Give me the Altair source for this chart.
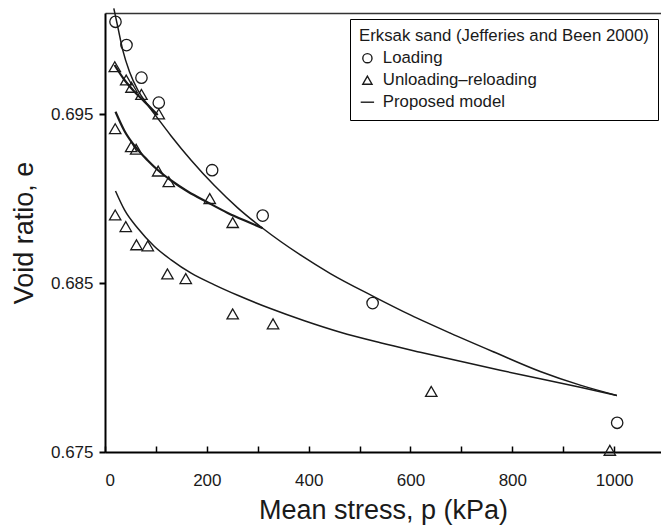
import altair as alt
import pandas as pd

# ---------------- data ----------------
loading_p = [20.6, 42.2, 71.6, 105.6, 210.4, 309.7, 525.6, 1005.9]
loading_e = [0.70048, 0.69910, 0.69717, 0.69569, 0.69169, 0.68900, 0.68382, 0.67673]

unload_p = [19.2, 41.6, 52.0, 71.6, 105.6,
            20.0, 51.4, 61.2, 104.4, 125.2, 205.7, 250.8,
            20.0, 40.8, 61.8, 84.0, 122.7, 158.6, 250.8, 330.0, 640.8, 991.5]
unload_e = [0.69782, 0.69703, 0.69660, 0.69618, 0.69502,
            0.69415, 0.69308, 0.69293, 0.69164, 0.69101, 0.69001, 0.68859,
            0.68904, 0.68835, 0.68727, 0.68721, 0.68555, 0.68527, 0.68318, 0.68259, 0.67859, 0.67510]

# model curves
model_load_p = [17.3, 25.1, 34.9, 48.1, 64.4, 84.0, 103.6, 129.9, 169.2, 214.9, 260.6, 309.7,
                383.7, 442.6, 525.0, 599.6, 678.1, 766.4, 854.8, 933.3, 1005.3]
model_load_e = [0.70127, 0.70018, 0.69880, 0.69752, 0.69644, 0.69555, 0.69476, 0.69372, 0.69228,
                0.69078, 0.68946, 0.68825, 0.68667, 0.68557, 0.68425, 0.68312, 0.68204, 0.68089,
                0.67977, 0.67896, 0.67835]

model_r1_p = [18.6, 38.3, 57.9, 77.5, 103.6]
model_r1_e = [0.69792, 0.69703, 0.69634, 0.69575, 0.69496]

model_r2_p = [20.6, 38.3, 61.2, 84.0, 103.6, 129.9, 162.5, 201.8, 241.0, 280.3, 309.7]
model_r2_e = [0.69515, 0.69401, 0.69301, 0.69227, 0.69170, 0.69108, 0.69043, 0.68978,
              0.68916, 0.68863, 0.68825]

model_r3_p = [20.6, 38.3, 64.4, 97.2, 129.9, 169.2, 214.9, 260.6, 326.2, 391.6, 462.2,
              540.7, 619.2, 697.7, 776.3, 854.8, 933.3, 1005.3]
model_r3_e = [0.69046, 0.68934, 0.68825, 0.68717, 0.68638, 0.68559, 0.68490, 0.68428,
              0.68348, 0.68277, 0.68209, 0.68147, 0.68091, 0.68037, 0.67984, 0.67934,
              0.67883, 0.67835]

series_names = ["Loading", "Unloading\u2013reloading", "Proposed model"]
series_shapes = ["circle", "triangle-up", "M-1.45,0H1.45"]
x_ticks = [0, 100, 200, 300, 400, 500, 600, 700, 800, 900, 1000]
x_labels = [0, 200, 400, 600, 800, 1000]
y_ticks = [0.675, 0.685, 0.695]

# ---------------- tables ----------------
pts = pd.DataFrame({
    "p": loading_p + unload_p,
    "e": loading_e + unload_e,
    "series": [series_names[0]] * len(loading_p) + [series_names[1]] * len(unload_p),
})

def curve(name, ps, es):
    return pd.DataFrame({"p": ps, "e": es, "curve": [name] * len(ps)})

thin = pd.concat([curve("load", model_load_p, model_load_e),
                  curve("r3", model_r3_p, model_r3_e)])
thick = pd.concat([curve("r1", model_r1_p, model_r1_e),
                   curve("r2", model_r2_p, model_r2_e)])

W, H = 556, 439
FONT = "Liberation Sans"
INK = "#1a1a1a"
xscale = alt.Scale(domain=[0, 1092], nice=False, zero=False)
yscale = alt.Scale(domain=[0.675, 0.701], nice=False, zero=False)

thin_lines = alt.Chart(thin).mark_line(color=INK, strokeWidth=1.5, interpolate="monotone").encode(
    x=alt.X("p:Q", scale=xscale, axis=None),
    y=alt.Y("e:Q", scale=yscale, axis=None),
    detail="curve:N",
)
thick_lines = alt.Chart(thick).mark_line(color=INK, strokeWidth=2.2, interpolate="monotone").encode(
    x=alt.X("p:Q", scale=xscale, axis=None),
    y=alt.Y("e:Q", scale=yscale, axis=None),
    detail="curve:N",
)

points = alt.Chart(pts).mark_point(filled=False, color=INK, strokeWidth=1.3, size=130, opacity=1).encode(
    x=alt.X("p:Q", scale=xscale,
            axis=alt.Axis(orient="bottom", values=x_labels, format="d", ticks=False, tickSize=0,
                          labelPadding=20, domainWidth=2, domainColor="black",
                          labelFontSize=17, labelColor=INK, labelFont=FONT,
                          title="Mean stress, p (kPa)", titleFontSize=27, titleFont=FONT,
                          titleFontWeight="normal", titleColor=INK, titlePadding=9,
                          grid=False)),
    y=alt.Y("e:Q", scale=yscale,
            axis=alt.Axis(orient="left", values=y_ticks, format=".3f", tickSize=6, tickWidth=2,
                          tickColor="black", labelPadding=6, domainWidth=2, domainColor="black",
                          labelFontSize=17, labelColor=INK, labelFont=FONT,
                          title="Void ratio, e", titleFontSize=27, titleFont=FONT,
                          titleFontWeight="normal", titleColor=INK, titlePadding=12,
                          grid=False)),
    shape=alt.Shape("series:N",
                    scale=alt.Scale(domain=series_names, range=series_shapes),
                    legend=alt.Legend(title="Erksak sand (Jefferies and Been 2000)",
                                      orient="none", legendX=245, legendY=6,
                                      strokeColor="black", fillColor="white", padding=9,
                                      symbolSize=85, symbolStrokeWidth=1.4,
                                      symbolStrokeColor=INK, symbolFillColor="white",
                                      labelFontSize=16.8, labelFont=FONT, labelColor=INK,
                                      titleFontSize=16.8, titleFont=FONT, titleColor=INK,
                                      titleFontWeight="normal", titleLimit=500, labelLimit=400,
                                      rowPadding=4, titlePadding=5, labelOffset=7)),
)

# inward ticks along the bottom edge (top-oriented axis shifted down)
tick_layer = alt.Chart(pts).mark_point(opacity=0).encode(
    x=alt.X("p:Q", scale=xscale,
            axis=alt.Axis(orient="top", offset=-H, values=x_ticks, labels=False, domain=False,
                          ticks=True, tickSize=6, tickWidth=1.5, tickColor="black",
                          title=None, grid=False)),
    y=alt.Y("e:Q", scale=yscale, axis=None),
)

# top frame line
top_layer = alt.Chart(pts).mark_point(opacity=0).encode(
    x=alt.X("p:Q", scale=xscale,
            axis=alt.Axis(orient="top", labels=False, ticks=False, domain=True,
                          domainWidth=1.5, domainColor="#333333", title=None, grid=False)),
    y=alt.Y("e:Q", scale=yscale, axis=None),
)

chart = alt.layer(thin_lines, thick_lines, points, tick_layer, top_layer).resolve_axis(
    x="independent", y="independent"
).properties(
    width=W, height=H,
    autosize=alt.AutoSizeParams(type="none"),
    padding={"left": 105, "top": 13, "right": 0, "bottom": 77},
).configure_view(stroke=None).configure(background="white")

chart.save("out.html", embed_options={"renderer": "svg", "actions": False})
